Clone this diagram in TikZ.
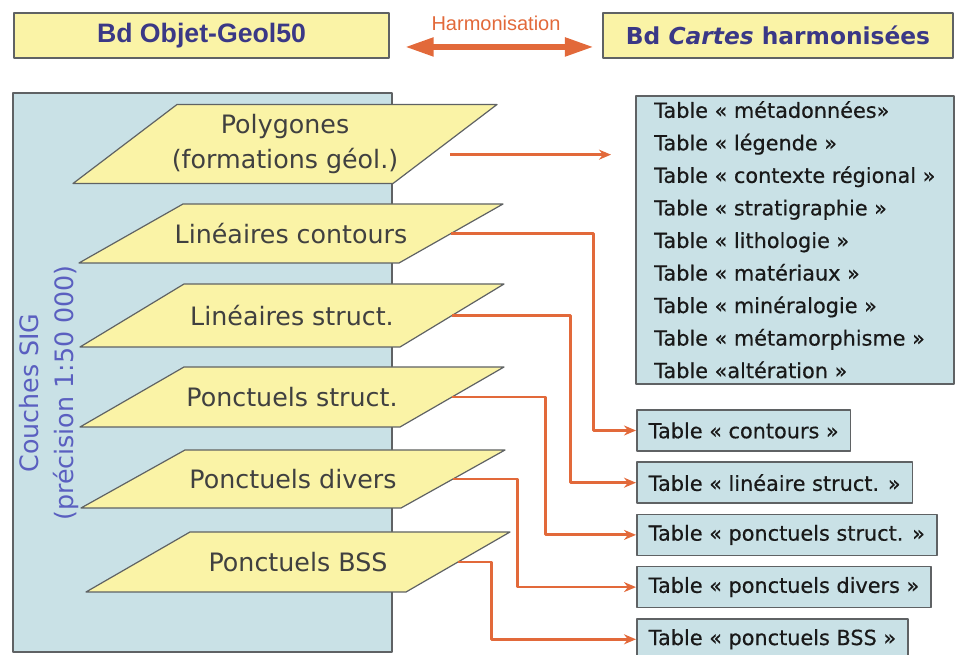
\documentclass[tikz,border=0pt]{standalone}
\usepackage{fontspec}
\setmainfont{DejaVu Sans}
\newfontfamily\arialfont{Liberation Sans}
\newfontfamily\tablefont{DejaVu Sans}[FakeBold=0.5]
\usetikzlibrary{arrows.meta,positioning}
\definecolor{jaunecouche}{HTML}{FAF3A6}
\definecolor{bleufond}{HTML}{C9E1E6}
\definecolor{orangelien}{HTML}{E2693A}
\definecolor{bleutitre}{HTML}{3A3886}
\definecolor{bleucouche}{HTML}{5A5FC0}
\definecolor{grisbord}{HTML}{5F6264}
\tikzset{
  every picture/.style={line join=round, >=Stealth},
  titre/.style={draw=grisbord, line width=1.1pt, fill=jaunecouche, text=bleutitre, minimum height=33.75pt, inner sep=0pt},
  couche/.style={draw=grisbord, line width=0.9pt, fill=jaunecouche},
  nomcouche/.style={text=black!75, font=\fontsize{19}{26.5}\selectfont, minimum width=240pt, inner sep=0pt, align=center},
  tablebox/.style={draw=grisbord, line width=1.2pt, fill=bleufond, text=black!90, font=\tablefont\fontsize{15.6}{24.4}\selectfont, inner xsep=9pt, minimum height=30.75pt},
  lien/.style={-{Stealth[length=9pt,width=7.5pt]}, draw=orangelien, line width=2.1pt},
}

\begin{document}
\begin{tikzpicture}[x=0.75pt,y=-0.75pt]
\useasboundingbox (0,0) rectangle (957,655);
% les deux bases
\node[titre, minimum width=281.25pt, font=\arialfont\bfseries\fontsize{20}{24}\selectfont] (bdgeol) at (201.5,35.5) {Bd Objet-Geol50};
\node[titre, minimum width=262.5pt, font=\bfseries\fontsize{17.5}{21}\selectfont] (bdcartes) at (778,35.5) {Bd \textit{Cartes} harmonisées};
\draw[orangelien, line width=5pt, {Triangle[length=22pt,width=13pt]}-{Triangle[length=22pt,width=13pt]}, shorten <=11pt, shorten >=6pt]
  ([yshift=-8.6pt]bdgeol.east) -- ([yshift=-8.6pt]bdcartes.west)
  node[midway, yshift=18pt, text=orangelien, font=\arialfont\fontsize{15}{18}\selectfont] (harmo) {Harmonisation};

% couches SIG
\draw[fill=bleufond, draw=grisbord, line width=1pt] (13,93) rectangle (392,652);
\node[rotate=90, align=center, text=bleucouche, font=\fontsize{19}{26}\selectfont] (sig) at (49,393) {Couches SIG\\(précision 1:50 000)};
\foreach \nom/\cx/\cy/\h/\txt in {poly/285/144/79/{Polygones\\(formations géol.)},
    cont/291/233.5/59/{Linéaires contours}, linst/292/315.5/63/{Linéaires struct.},
    ponst/292/397/60/{Ponctuels struct.}, pondiv/293/479/58/{Ponctuels divers},
    bss/298/562/60/{Ponctuels BSS}}
{
  \path[couche] (\cx,\cy) ++(-108,-\h/2) -- ++(320,0) -- ++(-104,\h) -- ++(-320,0) -- cycle;
  \node[nomcouche] (\nom) at (\cx,\cy) {\txt};
}

% tables
\node[tablebox, anchor=north west, minimum width=238.5pt, minimum height=216pt, align=left] (tabgen) at (635,95)
  {Table « métadonnées»\\Table « légende »\\Table « contexte régional »\\Table « stratigraphie »\\Table « lithologie »\\Table « matériaux »\\Table « minéralogie »\\Table « métamorphisme »\\Table «altération »};
\node[tablebox, anchor=west] (tcont) at (636,430.5) {Table « contours »};
\node[tablebox, below right=7.2pt and 0pt of tcont.south west] (tlin) {Table « linéaire struct. »};
\node[tablebox, below right=7.2pt and 0pt of tlin.south west] (tpon) {Table « ponctuels struct. »};
\node[tablebox, below right=7.2pt and 0pt of tpon.south west] (tdiv) {Table « ponctuels divers »};
\node[tablebox, below right=7.2pt and 0pt of tdiv.south west] (tbss) {Table « ponctuels BSS »};

% liens couches -> tables
\coordinate (polysortie) at ([xshift=3.5pt,yshift=-8pt]poly.east);
\draw[lien, shorten >=18pt] (polysortie) -- (polysortie -| tabgen.west);
\foreach \c/\t/\dx in {cont/tcont/142, linst/tlin/118, ponst/tpon/93, pondiv/tdiv/64, bss/tbss/33}
  \draw[lien] (\c.east) -- ++(\dx,0) |- (\t.west);
\end{tikzpicture}
\end{document}
